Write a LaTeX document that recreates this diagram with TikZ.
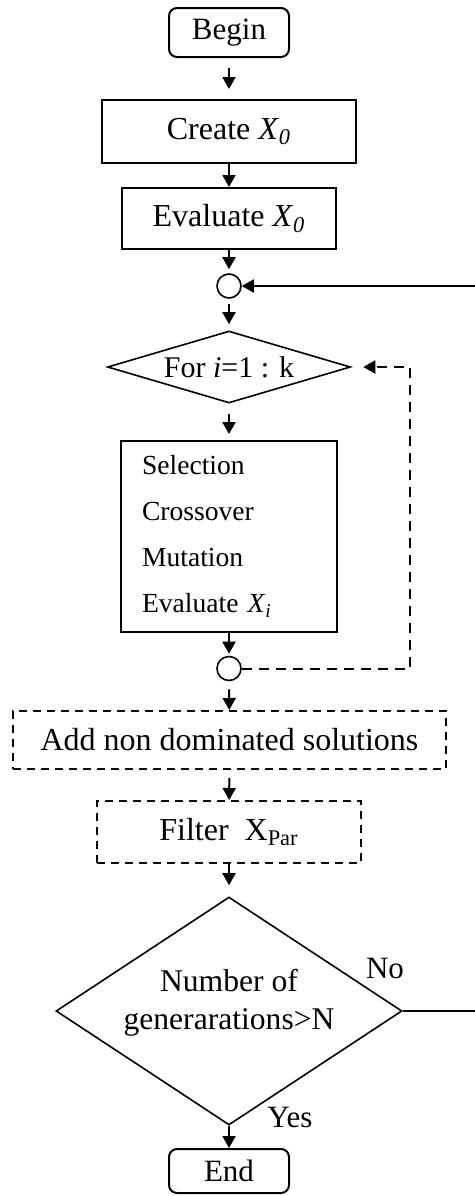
\documentclass[tikz,border=0pt]{standalone}
\usepackage{fontspec}
\setmainfont{Liberation Serif}
\usetikzlibrary{shapes.geometric,arrows.meta}

\begin{document}
\begin{tikzpicture}[x=0.5pt,y=-0.5pt,
  every node/.style={font=\fontsize{16}{19}\selectfont},
  proc/.style={draw,line width=1pt,inner sep=0pt},
  term/.style={proc,rounded corners=4pt,font=\fontsize{15.5}{18}\selectfont},
  dproc/.style={proc,dash pattern=on 4pt off 3pt},
  junc/.style={draw,circle,line width=0.8pt,minimum size=12pt,inner sep=0pt},
  cond/.style={draw,diamond,line width=0.8pt,inner sep=0pt},
  flow/.style={line width=1pt,-{Triangle[length=6pt,width=6.5pt]}},
  back/.style={flow,dash pattern=on 5pt off 3.5pt}]
\useasboundingbox (0,0) rectangle (475,1196);
\node[term,minimum width=60pt,minimum height=24.5pt] (begin) at (229,32.5) {Begin};
\node[proc,minimum width=127pt,minimum height=31.5pt] (create) at (229,131.5) {Create \textit{X}\textsubscript{\textit{0}}};
\node[proc,minimum width=107pt,minimum height=30.5pt] (eval) at (229,218.5) {Evaluate \textit{X}\textsubscript{\textit{0}}};
\node[junc] (loopA) at (229,286) {};
\node[cond,minimum width=121.5pt,minimum height=36pt,label={[font=\fontsize{15}{18}\selectfont]center:{For \textit{i}=1 : k}}] (fork) at (229,367) {};
\node[proc,minimum width=108pt,minimum height=95.5pt,text width=87pt,align=left,font=\fontsize{13.8}{23}\selectfont] (ops) at (229,536.5) {Selection\\Crossover\\Mutation\\Evaluate \textit{X}\textsubscript{\textit{i}}};
\node[junc] (loopB) at (229,668.5) {};
\node[dproc,minimum width=216.5pt,minimum height=29pt] (adds) at (229.5,740) {Add non dominated solutions};
\node[dproc,minimum width=132pt,minimum height=31pt] (filt) at (229,832) {Filter~~X\textsubscript{Par}};
\node[cond,minimum width=173pt,minimum height=114pt,label={[align=center,font=\fontsize{15.8}{19}\selectfont,yshift=4pt]center:{Number of\\generarations>N}}] (gens) at (229,1011) {};
\node[term,minimum width=60pt,minimum height=22pt] (finish) at (229,1171) {End};
\node[font=\fontsize{15.5}{18}\selectfont] (no) at (385,968) {No};
\node[font=\fontsize{15.5}{18}\selectfont] (yes) at (290,1117) {Yes};
\coordinate (fbR) at (482,1011);
\coordinate (dashC) at (410,367);
% main flow
\draw[flow,shorten <=5pt,shorten >=5pt] (begin) -- (create);
\draw[flow] (create) -- (eval);
\draw[flow,shorten >=2pt] (eval) -- (loopA);
\draw[flow,shorten <=2.5pt,shorten >=3pt] (loopA) -- (fork);
\draw[flow,shorten <=5pt,shorten >=3pt] (fork) -- (ops);
\draw[flow,shorten >=1pt] (ops) -- (loopB);
\draw[flow,shorten <=4pt] (loopB) -- (adds);
\draw[flow,shorten <=4pt] (adds) -- (filt);
\draw[flow,shorten >=5.5pt] (filt) -- (gens);
\draw[flow] (gens) -- (finish);
% loops
\draw[back,shorten >=6pt] (loopB) -| (dashC) -- (fork.east);
\draw[flow] (gens.east) -- (fbR) |- (loopA);
\end{tikzpicture}
\end{document}
